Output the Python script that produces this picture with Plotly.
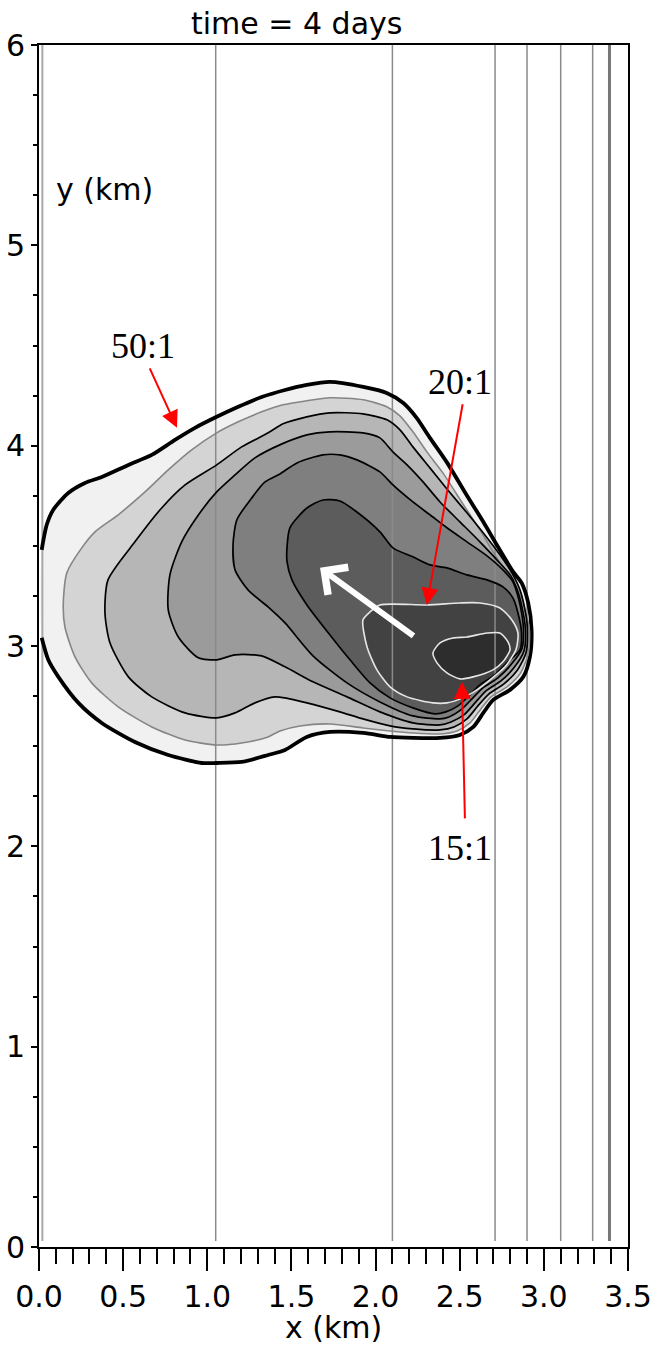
import plotly.graph_objects as go

# ---------------- data (km) ----------------
title_text = "time = 4 days"
x_tick_vals = [0.0, 0.5, 1.0, 1.5, 2.0, 2.5, 3.0, 3.5]
x_tick_text = ["0.0", "0.5", "1.0", "1.5", "2.0", "2.5", "3.0", "3.5"]
y_tick_vals = [0, 1, 2, 3, 4, 5, 6]

# vertical reference lines (bathymetry / grid lines)
grid_x = [0.02, 1.05, 2.10, 2.71, 2.90, 3.10, 3.29, 3.39]

# contour 1 : 50:1 (thick black, open at the left boundary)
c1_x = [0.016, 0.046, 0.085, 0.174, 0.273, 0.373, 0.531, 0.670, 0.808, 0.927, 1.056, 1.184, 1.323, 1.462,
        1.591, 1.729, 1.927, 2.066, 2.165, 2.244, 2.323, 2.422, 2.541, 2.640, 2.720, 2.818, 2.868, 2.907,
        2.927, 2.917, 2.878, 2.799, 2.699, 2.640, 2.581, 2.501, 2.383, 2.224, 2.086, 1.927, 1.729, 1.591,
        1.462, 1.362, 1.204, 1.056, 0.967, 0.768, 0.570, 0.373, 0.234, 0.115, 0.055, 0.016]
c1_y = [3.480, 3.605, 3.680, 3.764, 3.814, 3.844, 3.904, 3.954, 4.029, 4.089, 4.144, 4.194, 4.243, 4.278,
        4.303, 4.318, 4.293, 4.263, 4.213, 4.139, 4.039, 3.919, 3.754, 3.620, 3.505, 3.370, 3.315, 3.215,
        3.080, 2.946, 2.846, 2.781, 2.731, 2.666, 2.596, 2.556, 2.541, 2.541, 2.546, 2.566, 2.571, 2.546,
        2.481, 2.456, 2.421, 2.416, 2.416, 2.456, 2.521, 2.616, 2.716, 2.846, 2.931, 3.041]

# contour 2 (thin grey)
c2_x = [0.154, 0.144, 0.165, 0.254, 0.333, 0.471, 0.630, 0.768, 0.907, 1.056, 1.184, 1.323, 1.450, 1.591,
        1.729, 1.927, 2.066, 2.145, 2.222, 2.305, 2.400, 2.519, 2.620, 2.698, 2.793, 2.840, 2.882, 2.914,
        2.906, 2.858, 2.781, 2.686, 2.626, 2.561, 2.484, 2.383, 2.222, 2.086, 1.925, 1.729, 1.551, 1.432,
        1.361, 1.204, 1.056, 0.868, 0.670, 0.471, 0.313, 0.214]
c2_y = [3.095, 3.205, 3.365, 3.490, 3.570, 3.655, 3.769, 3.879, 3.979, 4.064, 4.119, 4.169, 4.204, 4.224,
        4.239, 4.229, 4.194, 4.149, 4.069, 3.969, 3.864, 3.709, 3.580, 3.470, 3.345, 3.290, 3.195, 3.080,
        2.956, 2.861, 2.796, 2.746, 2.686, 2.616, 2.576, 2.561, 2.566, 2.576, 2.591, 2.611, 2.601, 2.576,
        2.546, 2.516, 2.506, 2.531, 2.596, 2.696, 2.816, 2.946]

# contour 3 (black)
c3_x = [0.392, 0.410, 0.570, 0.729, 0.868, 1.056, 1.204, 1.362, 1.450, 1.591, 1.729, 1.925, 2.068, 2.145,
        2.222, 2.323, 2.424, 2.543, 2.644, 2.739, 2.810, 2.858, 2.888, 2.903, 2.894, 2.840, 2.763, 2.674,
        2.608, 2.543, 2.466, 2.383, 2.222, 2.086, 1.925, 1.788, 1.592, 1.462, 1.402, 1.283, 1.165, 1.056,
        0.868, 0.670, 0.531, 0.422]
c3_y = [3.165, 3.330, 3.520, 3.689, 3.804, 3.904, 3.994, 4.064, 4.109, 4.144, 4.164, 4.159, 4.129, 4.079,
        3.994, 3.889, 3.784, 3.665, 3.560, 3.455, 3.365, 3.280, 3.180, 3.080, 2.966, 2.876, 2.811, 2.761,
        2.701, 2.636, 2.596, 2.581, 2.586, 2.601, 2.636, 2.671, 2.716, 2.741, 2.746, 2.716, 2.666, 2.641,
        2.666, 2.746, 2.846, 3.015]

# contour 4 (black)
c4_x = [0.768, 0.778, 0.848, 0.947, 1.056, 1.165, 1.283, 1.444, 1.592, 1.729, 1.925, 2.026, 2.103, 2.187,
        2.282, 2.383, 2.501, 2.620, 2.721, 2.804, 2.846, 2.876, 2.891, 2.882, 2.822, 2.745, 2.656, 2.591,
        2.525, 2.448, 2.383, 2.222, 2.026, 1.830, 1.628, 1.462, 1.323, 1.165, 1.056, 0.947, 0.828]
c4_y = [3.180, 3.355, 3.520, 3.654, 3.769, 3.854, 3.939, 4.009, 4.054, 4.069, 4.064, 4.039, 3.969, 3.904,
        3.819, 3.719, 3.620, 3.520, 3.430, 3.350, 3.270, 3.170, 3.080, 2.975, 2.891, 2.826, 2.776, 2.716,
        2.656, 2.621, 2.606, 2.616, 2.671, 2.746, 2.821, 2.896, 2.951, 2.956, 2.931, 2.941, 3.045]

# contour 5 (black)
c5_x = [1.165, 1.153, 1.176, 1.264, 1.343, 1.432, 1.533, 1.687, 1.788, 1.889, 2.026, 2.103, 2.222, 2.323,
        2.424, 2.543, 2.662, 2.757, 2.816, 2.852, 2.870, 2.879, 2.870, 2.804, 2.727, 2.638, 2.573, 2.507,
        2.436, 2.383, 2.222, 2.026, 1.830, 1.628, 1.462, 1.361, 1.242]
c5_y = [3.380, 3.505, 3.630, 3.739, 3.819, 3.859, 3.914, 3.954, 3.954, 3.929, 3.869, 3.804, 3.719, 3.655,
        3.590, 3.520, 3.450, 3.380, 3.320, 3.230, 3.155, 3.080, 2.986, 2.906, 2.841, 2.791, 2.736, 2.681,
        2.646, 2.636, 2.651, 2.721, 2.816, 2.951, 3.115, 3.195, 3.280]

# contour 6 (black, innermost black)
c6_x = [1.474, 1.474, 1.491, 1.592, 1.687, 1.788, 1.889, 2.026, 2.103, 2.222, 2.323, 2.424, 2.543, 2.662,
        2.757, 2.816, 2.846, 2.867, 2.858, 2.787, 2.709, 2.620, 2.555, 2.490, 2.418, 2.353, 2.222, 2.086,
        1.967, 1.848, 1.729, 1.592, 1.503]
c6_y = [3.420, 3.495, 3.590, 3.689, 3.729, 3.724, 3.669, 3.570, 3.490, 3.445, 3.405, 3.390, 3.355, 3.330,
        3.295, 3.240, 3.165, 3.070, 2.981, 2.921, 2.856, 2.806, 2.751, 2.701, 2.671, 2.661, 2.691, 2.741,
        2.816, 2.931, 3.055, 3.205, 3.330]

# contour 7 : 20:1 (white)
c7_x = [1.925, 1.967, 2.026, 2.305, 2.501, 2.620, 2.739, 2.810, 2.846, 2.834, 2.769, 2.680, 2.602, 2.519,
        2.424, 2.341, 2.187, 2.086, 2.008, 1.949]
c7_y = [3.130, 3.170, 3.205, 3.205, 3.215, 3.215, 3.190, 3.130, 3.065, 2.981, 2.896, 2.831, 2.781, 2.741,
        2.716, 2.716, 2.746, 2.796, 2.881, 2.996]

# contour 8 : 15:1 (white)
c8_x = [2.341, 2.383, 2.460, 2.543, 2.662, 2.739, 2.787, 2.799, 2.757, 2.698, 2.579, 2.501, 2.424, 2.365]
c8_y = [2.966, 3.015, 3.040, 3.045, 3.065, 3.065, 3.020, 2.981, 2.921, 2.881, 2.846, 2.836, 2.866, 2.916]

# annotations: label, label position, arrow tail, arrow tip
labels = ["50:1", "20:1", "15:1"]
label_x = [0.62, 2.50, 2.50]
label_y = [4.50, 4.32, 1.99]
arrow_tail_x = [0.654, 2.519, 2.531]
arrow_tail_y = [4.393, 4.214, 2.132]
arrow_tip_x = [0.820, 2.305, 2.513]
arrow_tip_y = [4.089, 3.205, 2.821]

# flow direction arrow
flow_tail = (2.234, 3.045)
flow_tip = (1.670, 3.390)

# ---------------- figure ----------------
fig = go.Figure()

contours = [
    (c1_x, c1_y, "#f1f1f1"),
    (c2_x, c2_y, "#d4d4d4"),
    (c3_x, c3_y, "#b6b6b6"),
    (c4_x, c4_y, "#9b9b9b"),
    (c5_x, c5_y, "#7f7f7f"),
    (c6_x, c6_y, "#5c5c5c"),
    (c7_x, c7_y, "#424242"),
    (c8_x, c8_y, "#2d2d2d"),
]

for cx, cy, col in contours:
    fig.add_trace(go.Scatter(
        x=list(cx) + [cx[0]], y=list(cy) + [cy[0]], mode="lines",
        fill="toself", fillcolor=col,
        line=dict(width=0, shape="spline", smoothing=0.7),
        hoverinfo="skip", showlegend=False))

# vertical grid lines
for i, gx in enumerate(grid_x):
    w = 3 if i == len(grid_x) - 1 else (2 if i == 0 else 1.5)
    col = "#777777" if i == len(grid_x) - 1 else ("#a8a8a8" if i == 0 else "#8a8a8a")
    fig.add_trace(go.Scatter(x=[gx, gx], y=[0.03, 6], mode="lines",
                             line=dict(color=col, width=w),
                             hoverinfo="skip", showlegend=False))

line_styles = [
    (c1_x, c1_y, "black", 3.8, False),
    (c2_x, c2_y, "#858585", 1.6, True),
    (c3_x, c3_y, "black", 1.7, True),
    (c4_x, c4_y, "black", 1.7, True),
    (c5_x, c5_y, "black", 1.7, True),
    (c6_x, c6_y, "black", 1.7, True),
    (c7_x, c7_y, "#e6e6e6", 1.6, True),
    (c8_x, c8_y, "#e6e6e6", 1.6, True),
]
for cx, cy, col, w, closed in line_styles:
    xs = list(cx) + ([cx[0]] if closed else [])
    ys = list(cy) + ([cy[0]] if closed else [])
    fig.add_trace(go.Scatter(x=xs, y=ys, mode="lines",
                             line=dict(color=col, width=w, shape="spline", smoothing=0.7),
                             hoverinfo="skip", showlegend=False))

annotations = []
for lab, lx, ly, tx, ty, hx, hy in zip(labels, label_x, label_y, arrow_tail_x, arrow_tail_y,
                                       arrow_tip_x, arrow_tip_y):
    annotations.append(dict(x=lx, y=ly, xref="x", yref="y", text=lab, showarrow=False,
                            font=dict(family="Liberation Serif", size=36, color="black"),
                            xanchor="center", yanchor="middle"))
    annotations.append(dict(x=hx, y=hy, ax=tx, ay=ty, xref="x", yref="y", axref="x", ayref="y",
                            text="", showarrow=True, arrowhead=2, arrowsize=1.7, arrowwidth=2,
                            arrowcolor="#ff0000", standoff=0, startstandoff=0))

annotations.append(dict(x=flow_tip[0], y=flow_tip[1], ax=flow_tail[0], ay=flow_tail[1],
                        xref="x", yref="y", axref="x", ayref="y", text="", showarrow=True,
                        arrowhead=4, arrowsize=1.1, arrowwidth=6, arrowcolor="white",
                        standoff=0, startstandoff=0))

annotations.append(dict(x=0.438, y=1, xref="paper", yref="paper", text=title_text, showarrow=False,
                        xanchor="center", yanchor="bottom", yshift=2,
                        font=dict(family="DejaVu Sans", size=30, color="black")))
annotations.append(dict(x=0.09, y=5.28, xref="x", yref="y", text="y (km)", showarrow=False,
                        xanchor="left", yanchor="middle",
                        font=dict(family="DejaVu Sans", size=30, color="black")))
annotations.append(dict(x=0.5, y=-0.067, xref="paper", yref="paper", text="x (km)", showarrow=False,
                        xanchor="center", yanchor="middle",
                        font=dict(family="DejaVu Sans", size=30, color="black")))

fig.update_layout(
    width=655, height=1349, autosize=False,
    margin=dict(l=39, r=27, t=45, b=102, pad=0),
    paper_bgcolor="white", plot_bgcolor="white",
    showlegend=False,
    annotations=annotations,
    xaxis=dict(range=[0, 3.5], tickvals=x_tick_vals, ticktext=x_tick_text,
               ticks="outside", ticklen=22, tickwidth=2, tickcolor="black",
               minor=dict(dtick=0.1, tick0=0, ticks="outside", ticklen=15, tickwidth=2,
                          tickcolor="black", showgrid=False),
               showline=True, linewidth=2, linecolor="black", mirror=True,
               showgrid=False, zeroline=False, automargin=False,
               tickfont=dict(family="DejaVu Sans", size=30, color="black")),
    yaxis=dict(range=[0, 6], tickvals=y_tick_vals,
               ticks="outside", ticklen=6, tickwidth=2, tickcolor="black",
               minor=dict(dtick=0.25, tick0=0, ticks="outside", ticklen=4, tickwidth=1.5,
                          tickcolor="black", showgrid=False),
               showline=True, linewidth=2, linecolor="black", mirror=True,
               showgrid=False, zeroline=False, automargin=False,
               tickfont=dict(family="DejaVu Sans", size=30, color="black")),
)

fig.write_html("out.html")
